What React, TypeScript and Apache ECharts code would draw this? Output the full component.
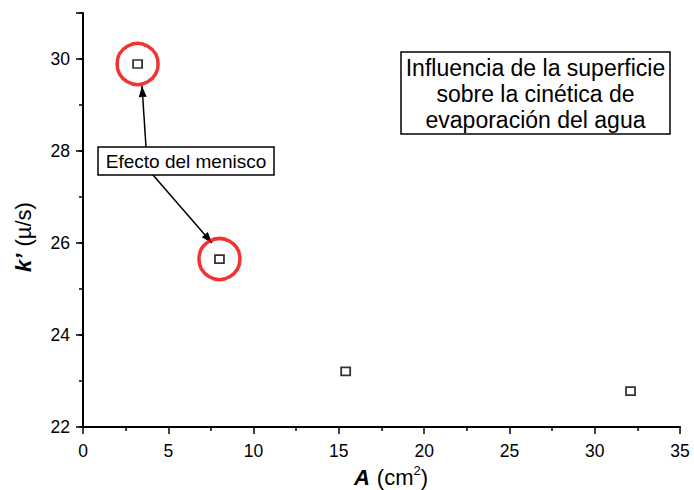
import React, { useEffect, useRef } from "react";
import * as echarts from "echarts";

const areaCm2 = [3.2, 8.0, 15.4, 32.1];
const kPrime = [29.89, 25.65, 23.21, 22.78];
const meniscusIdx = [0, 1];
const xTicks = { min: 0, max: 35, interval: 5 };
const yTicks = { min: 22, max: 31, interval: 2 };
const titleLines = ["Influencia de la superficie", "sobre la cinética de", "evaporación del agua"];
const noteText = "Efecto del menisco";

const FONT = "'Liberation Sans', Arial, sans-serif";

function arrowHead(x1: number, y1: number, x2: number, y2: number, len = 11, half = 4) {
  const dx = x2 - x1, dy = y2 - y1;
  const d = Math.hypot(dx, dy);
  const ux = dx / d, uy = dy / d;
  const bx = x2 - ux * len, by = y2 - uy * len;
  return [
    [x2, y2],
    [bx - uy * half, by + ux * half],
    [bx + uy * half, by - ux * half],
  ];
}

export default function App() {
  const ref = useRef<HTMLDivElement>(null);
  useEffect(() => {
    if (!ref.current) return;
    const chart = echarts.init(ref.current, undefined, { renderer: "svg" });
    const pts = areaCm2.map((x, i) => [x, kPrime[i]]);
    const circ = meniscusIdx.map((i) => pts[i]);
    const a1 = [146, 147, 142, 86];
    const a2 = [153, 175, 212, 243];
    const axisCommon = {
      axisLine: { show: true, lineStyle: { color: "#000", width: 2 } },
      axisTick: { show: true, inside: false, length: 7, lineStyle: { color: "#000", width: 1.5 } },
      axisLabel: { color: "#000", fontSize: 17.5, fontFamily: FONT },
      splitLine: { show: false },
    };
    const nameRich = {
      b: { fontSize: 22, fontWeight: "bold", fontStyle: "italic", fontFamily: FONT, fill: "#000" },
      n: { fontSize: 22, fontFamily: FONT, fill: "#000" },
      sp: { fontSize: 22, fontFamily: FONT, fill: "#000", width: 7 },
      s: { fontSize: 13, fontFamily: FONT, fill: "#000", padding: [0, 0, 13, 0] },
    };
    chart.setOption({
      animation: false,
      backgroundColor: "#fff",
      grid: { left: 83, right: 14, top: 13, bottom: 63 },
      xAxis: [
        {
          type: "value",
          ...xTicks,
          ...axisCommon,
          axisLabel: { ...axisCommon.axisLabel, margin: 15 },
          minorTick: { show: true, splitNumber: 2, length: 4, lineStyle: { color: "#000", width: 1.5 } },
        },
      ],
      yAxis: [
        {
          type: "value",
          min: yTicks.min,
          max: yTicks.max,
          interval: yTicks.interval,
          ...axisCommon,
          axisLabel: {
            ...axisCommon.axisLabel,
            margin: 13,
            formatter: (v: number) => (v % 2 === 0 ? String(v) : ""),
          },
        },
        {
          type: "value",
          min: yTicks.min,
          max: yTicks.max,
          interval: 1,
          position: "left",
          axisLine: { show: false },
          axisTick: { show: true, inside: false, length: 4, lineStyle: { color: "#000", width: 1.5 } },
          axisLabel: { show: false },
          splitLine: { show: false },
        },
      ],
      series: [
        {
          type: "scatter",
          data: circ,
          symbol: "circle",
          symbolSize: 41,
          itemStyle: { color: "rgba(0,0,0,0)", borderColor: "#f00000", borderWidth: 3.5 },
          z: 1,
          silent: true,
        },
        {
          type: "scatter",
          data: pts,
          symbol: "rect",
          symbolSize: [9, 8],
          itemStyle: { color: "#fff", borderColor: "#000", borderWidth: 1.7 },
          z: 3,
        },
      ],
      graphic: [
        { type: "line", shape: { x1: a1[0], y1: a1[1], x2: a1[2], y2: a1[3] }, style: { stroke: "#000", lineWidth: 1.5 } },
        { type: "polygon", shape: { points: arrowHead(a1[0], a1[1], a1[2], a1[3]) }, style: { fill: "#000" } },
        { type: "line", shape: { x1: a2[0], y1: a2[1], x2: a2[2], y2: a2[3] }, style: { stroke: "#000", lineWidth: 1.5 } },
        { type: "polygon", shape: { points: arrowHead(a2[0], a2[1], a2[2], a2[3]) }, style: { fill: "#000" } },
        {
          type: "rect",
          shape: { x: 98, y: 147, width: 176, height: 28 },
          style: { fill: "#fff", stroke: "#000", lineWidth: 1.5 },
          z: 10,
        },
        {
          type: "text",
          x: 186,
          y: 161.5,
          style: { text: noteText, fontSize: 19, fontFamily: FONT, fill: "#000", align: "center", verticalAlign: "middle" },
          z: 11,
        },
        {
          type: "rect",
          shape: { x: 401, y: 52, width: 269, height: 82 },
          style: { fill: "#fff", stroke: "#000", lineWidth: 1.5 },
          z: 10,
        },
        {
          type: "text",
          x: 535.5,
          y: 94,
          style: {
            text: titleLines.join("\n"),
            fontSize: 23,
            lineHeight: 26,
            fontFamily: FONT,
            fill: "#000",
            align: "center",
            verticalAlign: "middle",
          },
          z: 11,
        },
        {
          type: "text",
          x: 391,
          y: 477,
          style: {
            text: "{b|A}{sp| }{n|(cm}{s|2}{n|)}",
            rich: nameRich,
            align: "center",
            verticalAlign: "middle",
          },
          z: 11,
        },
        {
          type: "text",
          x: 23,
          y: 237,
          rotation: Math.PI / 2,
          style: {
            text: "{b|k’}{sp| }{n|(µ/s)}",
            rich: nameRich,
            align: "center",
            verticalAlign: "middle",
          },
          z: 11,
        },
      ],
    });
    return () => chart.dispose();
  }, []);
  return <div ref={ref} style={{ width: 694, height: 490, position: "absolute", left: 0, top: 0 }} />;
}
